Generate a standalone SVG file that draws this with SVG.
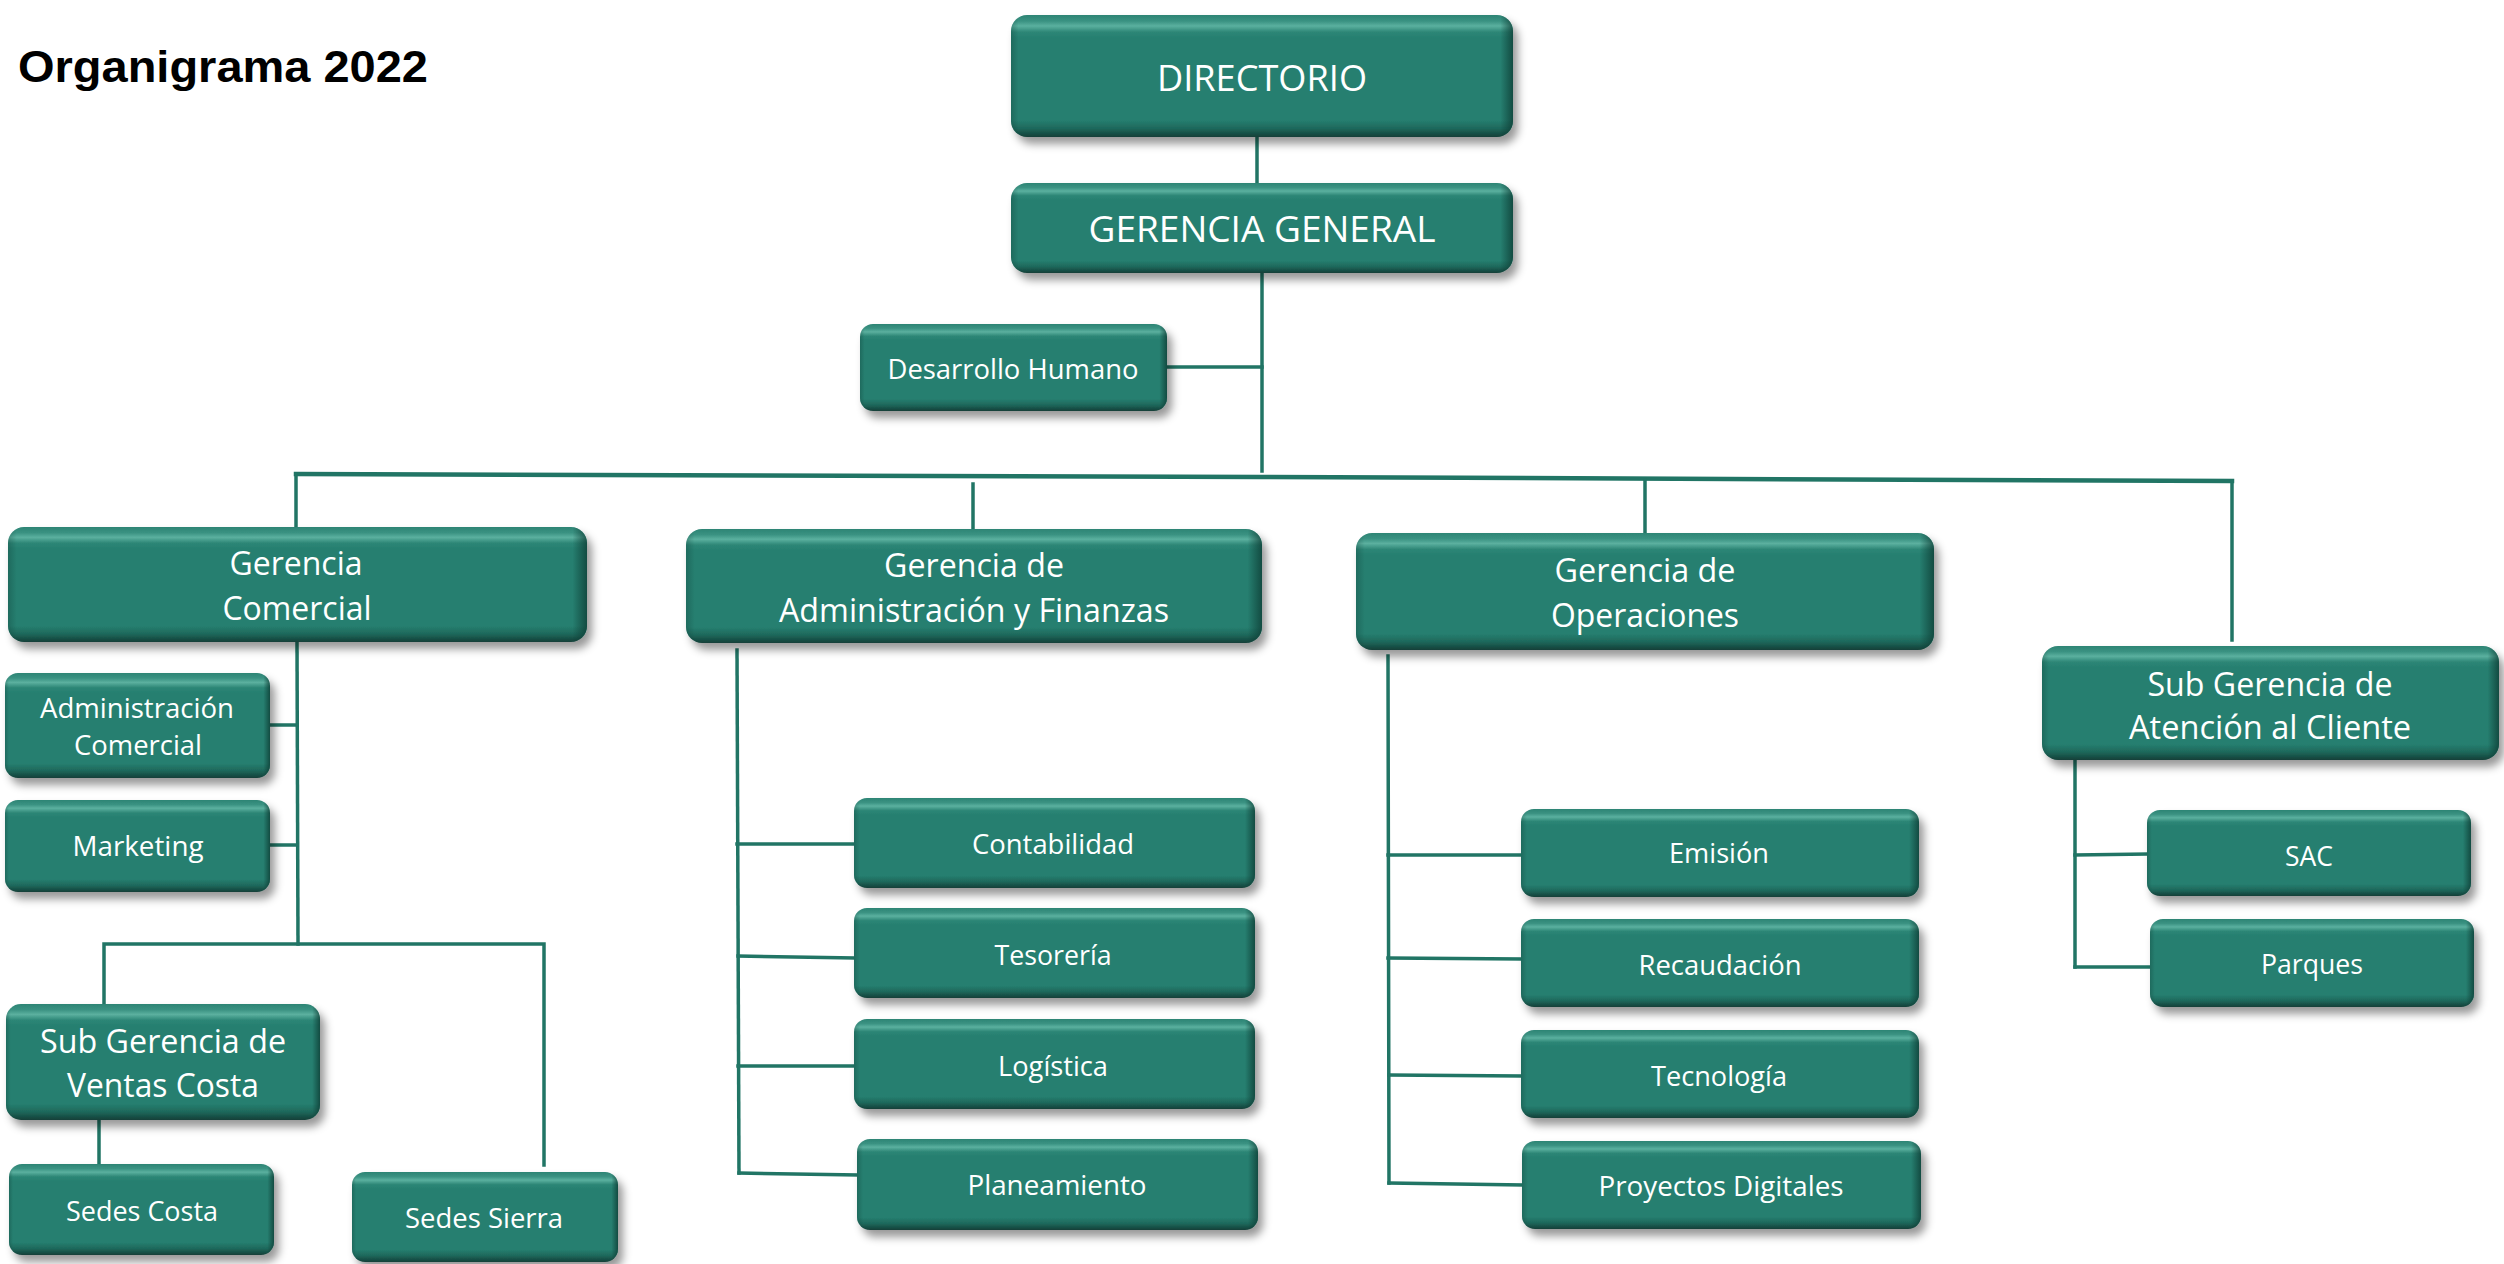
<svg xmlns="http://www.w3.org/2000/svg" width="2504" height="1264" viewBox="0 0 2504 1264">
<style>
.b{fill:url(#gv);filter:url(#sh)}
.o{fill:url(#gh)}
.t{fill:#ffffff;font-family:"Open Sans","Liberation Sans",sans-serif;text-anchor:middle}
.s{font-size:28px}
.m{font-size:32px}
.l{font-size:36px}
.c{fill:none;stroke:#217565;stroke-width:3.5;stroke-linecap:square}
</style>
<defs>
<linearGradient id="gv" x1="0" y1="0" x2="0" y2="1">
<stop offset="0" stop-color="#2c8474"/>
<stop offset="0.05" stop-color="#3a9282"/>
<stop offset="0.09" stop-color="#5bb09f"/>
<stop offset="0.14" stop-color="#2d8676"/>
<stop offset="0.19" stop-color="#267f70"/>
<stop offset="0.86" stop-color="#267f70"/>
<stop offset="0.93" stop-color="#1e685b"/>
<stop offset="1" stop-color="#133f38"/>
</linearGradient>
<linearGradient id="gh" x1="0" y1="0" x2="1" y2="0">
<stop offset="0" stop-color="#0c3a32" stop-opacity="0.3"/>
<stop offset="0.015" stop-color="#0c3a32" stop-opacity="0"/>
<stop offset="0.975" stop-color="#0c3a32" stop-opacity="0"/>
<stop offset="1" stop-color="#0c3a32" stop-opacity="0.75"/>
</linearGradient>
<filter id="sh" x="-5%" y="-10%" width="115%" height="135%">
<feDropShadow dx="5" dy="7" stdDeviation="4" flood-color="#000000" flood-opacity="0.4"/>
</filter>
</defs>
<rect x="0" y="0" width="2504" height="1264" fill="#ffffff"/>
<text x="18" y="82" font-family="'Liberation Sans',Arial,sans-serif" font-weight="bold" font-size="45" textLength="410" lengthAdjust="spacingAndGlyphs" fill="#000000">Organigrama 2022</text>
<g id="connectors">
<line class="c" x1="1257" y1="137" x2="1257" y2="183"/>
<line class="c" x1="1262" y1="273" x2="1262" y2="471"/>
<line class="c" x1="1167" y1="367" x2="1262" y2="367"/>
<polyline class="c" style="stroke-width:4.5" points="296,474 1262,477 2232,481"/>
<line class="c" x1="296" y1="474" x2="296" y2="527"/>
<line class="c" x1="973" y1="484" x2="973" y2="529"/>
<line class="c" x1="1645" y1="480" x2="1645" y2="533"/>
<line class="c" x1="2232" y1="481" x2="2232" y2="640"/>
<line class="c" x1="297" y1="642" x2="298" y2="944"/>
<line class="c" x1="270" y1="725" x2="297" y2="725"/>
<line class="c" x1="270" y1="845" x2="297" y2="845"/>
<polyline class="c" points="104,1004 104,944 544,944 544,1165"/>
<line class="c" x1="99" y1="1120" x2="99" y2="1164"/>
<line class="c" x1="737" y1="650" x2="739" y2="1173"/>
<line class="c" x1="737" y1="844" x2="854" y2="844"/>
<line class="c" x1="738" y1="956" x2="854" y2="958"/>
<line class="c" x1="738" y1="1066" x2="854" y2="1066"/>
<line class="c" x1="739" y1="1173" x2="857" y2="1175"/>
<line class="c" x1="1388" y1="656" x2="1389" y2="1183"/>
<line class="c" x1="1388" y1="855" x2="1521" y2="855"/>
<line class="c" x1="1388" y1="958" x2="1521" y2="959"/>
<line class="c" x1="1389" y1="1075" x2="1521" y2="1076"/>
<line class="c" x1="1389" y1="1183" x2="1522" y2="1185"/>
<line class="c" x1="2075" y1="757" x2="2075" y2="967"/>
<line class="c" x1="2075" y1="855" x2="2147" y2="854"/>
<line class="c" x1="2075" y1="967" x2="2150" y2="967"/>
</g>
<g id="n-directorio"><rect class="b" x="1011" y="15" width="502" height="122" rx="16"/><rect class="o" x="1011" y="15" width="502" height="122" rx="16"/><text class="t l" x="1262" y="91" textLength="210" lengthAdjust="spacingAndGlyphs">DIRECTORIO</text></g>
<g id="n-gerencia-general"><rect class="b" x="1011" y="183" width="502" height="90" rx="16"/><rect class="o" x="1011" y="183" width="502" height="90" rx="16"/><text class="t l" x="1262" y="242" textLength="347" lengthAdjust="spacingAndGlyphs">GERENCIA GENERAL</text></g>
<g id="n-desarrollo-humano"><rect class="b" x="860" y="324" width="307" height="87" rx="13"/><rect class="o" x="860" y="324" width="307" height="87" rx="13"/><text class="t s" x="1013" y="379" textLength="251" lengthAdjust="spacingAndGlyphs">Desarrollo Humano</text></g>
<g id="n-gerencia-comercial"><rect class="b" x="8" y="527" width="579" height="115" rx="16"/><rect class="o" x="8" y="527" width="579" height="115" rx="16"/><text class="t m" x="296" y="575" textLength="133" lengthAdjust="spacingAndGlyphs">Gerencia</text><text class="t m" x="297" y="620" textLength="149" lengthAdjust="spacingAndGlyphs">Comercial</text></g>
<g id="n-gerencia-adm-finanzas"><rect class="b" x="686" y="529" width="576" height="114" rx="16"/><rect class="o" x="686" y="529" width="576" height="114" rx="16"/><text class="t m" x="974" y="577" textLength="180" lengthAdjust="spacingAndGlyphs">Gerencia de</text><text class="t m" x="974" y="622" textLength="390" lengthAdjust="spacingAndGlyphs">Administración y Finanzas</text></g>
<g id="n-gerencia-operaciones"><rect class="b" x="1356" y="533" width="578" height="117" rx="16"/><rect class="o" x="1356" y="533" width="578" height="117" rx="16"/><text class="t m" x="1645" y="582" textLength="181" lengthAdjust="spacingAndGlyphs">Gerencia de</text><text class="t m" x="1645" y="627" textLength="188" lengthAdjust="spacingAndGlyphs">Operaciones</text></g>
<g id="n-sg-atencion-cliente"><rect class="b" x="2042" y="646" width="457" height="114" rx="16"/><rect class="o" x="2042" y="646" width="457" height="114" rx="16"/><text class="t m" x="2270" y="696" textLength="245" lengthAdjust="spacingAndGlyphs">Sub Gerencia de</text><text class="t m" x="2270" y="739" textLength="282" lengthAdjust="spacingAndGlyphs">Atención al Cliente</text></g>
<g id="n-administracion-comercial"><rect class="b" x="5" y="673" width="265" height="105" rx="13"/><rect class="o" x="5" y="673" width="265" height="105" rx="13"/><text class="t s" x="137" y="718" textLength="194" lengthAdjust="spacingAndGlyphs">Administración</text><text class="t s" x="138" y="755" textLength="128" lengthAdjust="spacingAndGlyphs">Comercial</text></g>
<g id="n-marketing"><rect class="b" x="5" y="800" width="265" height="92" rx="13"/><rect class="o" x="5" y="800" width="265" height="92" rx="13"/><text class="t s" x="138" y="856" textLength="131" lengthAdjust="spacingAndGlyphs">Marketing</text></g>
<g id="n-sg-ventas-costa"><rect class="b" x="6" y="1004" width="314" height="116" rx="15"/><rect class="o" x="6" y="1004" width="314" height="116" rx="15"/><text class="t m" x="163" y="1053" textLength="246" lengthAdjust="spacingAndGlyphs">Sub Gerencia de</text><text class="t m" x="163" y="1097" textLength="192" lengthAdjust="spacingAndGlyphs">Ventas Costa</text></g>
<g id="n-sedes-costa"><rect class="b" x="9" y="1164" width="265" height="91" rx="13"/><rect class="o" x="9" y="1164" width="265" height="91" rx="13"/><text class="t s" x="142" y="1221" textLength="152" lengthAdjust="spacingAndGlyphs">Sedes Costa</text></g>
<g id="n-sedes-sierra"><rect class="b" x="352" y="1172" width="266" height="90" rx="13"/><rect class="o" x="352" y="1172" width="266" height="90" rx="13"/><text class="t s" x="484" y="1228" textLength="158" lengthAdjust="spacingAndGlyphs">Sedes Sierra</text></g>
<g id="n-contabilidad"><rect class="b" x="854" y="798" width="401" height="90" rx="13"/><rect class="o" x="854" y="798" width="401" height="90" rx="13"/><text class="t s" x="1053" y="854" textLength="162" lengthAdjust="spacingAndGlyphs">Contabilidad</text></g>
<g id="n-tesoreria"><rect class="b" x="854" y="908" width="401" height="90" rx="13"/><rect class="o" x="854" y="908" width="401" height="90" rx="13"/><text class="t s" x="1053" y="965" textLength="117" lengthAdjust="spacingAndGlyphs">Tesorería</text></g>
<g id="n-logistica"><rect class="b" x="854" y="1019" width="401" height="90" rx="13"/><rect class="o" x="854" y="1019" width="401" height="90" rx="13"/><text class="t s" x="1053" y="1076" textLength="110" lengthAdjust="spacingAndGlyphs">Logística</text></g>
<g id="n-planeamiento"><rect class="b" x="857" y="1139" width="401" height="91" rx="13"/><rect class="o" x="857" y="1139" width="401" height="91" rx="13"/><text class="t s" x="1057" y="1195" textLength="179" lengthAdjust="spacingAndGlyphs">Planeamiento</text></g>
<g id="n-emision"><rect class="b" x="1521" y="809" width="398" height="88" rx="13"/><rect class="o" x="1521" y="809" width="398" height="88" rx="13"/><text class="t s" x="1719" y="863" textLength="100" lengthAdjust="spacingAndGlyphs">Emisión</text></g>
<g id="n-recaudacion"><rect class="b" x="1521" y="919" width="398" height="88" rx="13"/><rect class="o" x="1521" y="919" width="398" height="88" rx="13"/><text class="t s" x="1720" y="975" textLength="163" lengthAdjust="spacingAndGlyphs">Recaudación</text></g>
<g id="n-tecnologia"><rect class="b" x="1521" y="1030" width="398" height="88" rx="13"/><rect class="o" x="1521" y="1030" width="398" height="88" rx="13"/><text class="t s" x="1719" y="1086" textLength="136" lengthAdjust="spacingAndGlyphs">Tecnología</text></g>
<g id="n-proyectos-digitales"><rect class="b" x="1522" y="1141" width="399" height="88" rx="13"/><rect class="o" x="1522" y="1141" width="399" height="88" rx="13"/><text class="t s" x="1721" y="1196" textLength="245" lengthAdjust="spacingAndGlyphs">Proyectos Digitales</text></g>
<g id="n-sac"><rect class="b" x="2147" y="810" width="324" height="86" rx="13"/><rect class="o" x="2147" y="810" width="324" height="86" rx="13"/><text class="t s" x="2309" y="866" textLength="48" lengthAdjust="spacingAndGlyphs">SAC</text></g>
<g id="n-parques"><rect class="b" x="2150" y="919" width="324" height="88" rx="13"/><rect class="o" x="2150" y="919" width="324" height="88" rx="13"/><text class="t s" x="2312" y="974" textLength="102" lengthAdjust="spacingAndGlyphs">Parques</text></g>
</svg>
